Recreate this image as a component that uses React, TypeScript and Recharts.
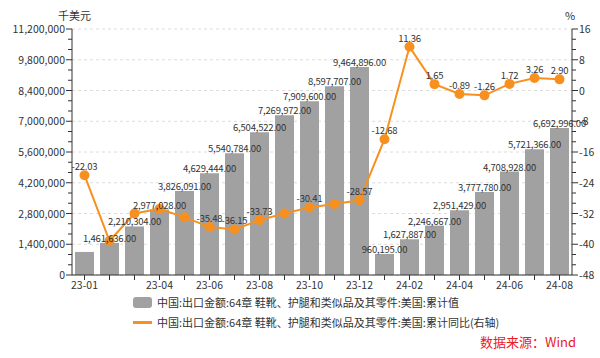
import { Bar, CartesianGrid, ComposedChart, LabelList, Line, XAxis, YAxis } from "recharts";

const months = [
  "23-01", "23-02", "23-03", "23-04", "23-05", "23-06", "23-07", "23-08", "23-09", "23-10",
  "23-11", "23-12", "24-01", "24-02", "24-03", "24-04", "24-05", "24-06", "24-07", "24-08"
];
const cumValue = [
  1050000, 1461636, 2210304, 2977028, 3826091, 4629444, 5540784, 6504522, 7269972, 7909600,
  8597707, 9464896, 960195, 1627887, 2246667, 2951429, 3777780, 4708928, 5721366, 6692996
];
const cumYoY = [
  -22.03, -39.1, -32.0, -30.8, -33.0, -35.48, -36.15, -33.73, -32.0, -30.41,
  -29.5, -28.57, -12.68, 11.36, 1.65, -0.89, -1.26, 1.72, 3.26, 2.9
];
const shownMonths = ["23-01", "23-04", "23-06", "23-08", "23-10", "23-12", "24-02", "24-04", "24-06", "24-08"];
const hiddenBarLabels = ["23-01"];
const hiddenLineLabels = ["23-02", "23-03", "23-04", "23-05", "23-09", "23-11"];
const leftMajor = [0, 1400000, 2800000, 4200000, 5600000, 7000000, 8400000, 9800000, 11200000];
const rightMajor = [-48, -40, -32, -24, -16, -8, 0, 8, 16];

const withMinor = (major: number[]) => {
  const out: number[] = [];
  major.forEach((v, i) => {
    out.push(v);
    if (i < major.length - 1) {
      const step = (major[i + 1] - v) / 3;
      out.push(v + step, v + 2 * step);
    }
  });
  return out;
};

const data = months.map((m, i) => ({ month: m, value: cumValue[i], yoy: cumYoY[i] }));

const FONT = "'Microsoft YaHei', 'Noto Sans CJK SC', 'Noto Sans', sans-serif";
const BAR = "#a1a1a1";
const ORANGE = "#f7901e";
const INK = "#333";

const fmt = (v: number) => v.toLocaleString("en-US");

const LeftTick = (props: any) => {
  const { x, y, payload } = props;
  const major = leftMajor.includes(payload.value);
  return (
    <g>
      <line x1={x} x2={x - (major ? 6 : 4)} y1={y} y2={y} stroke={INK} />
      {major && (
        <text x={x - 7} y={y} dy={4} textAnchor="end" fontSize={10.5} fill={INK}>
          {fmt(payload.value)}
        </text>
      )}
    </g>
  );
};

const RightTick = (props: any) => {
  const { x, y, payload } = props;
  const major = rightMajor.includes(payload.value);
  return (
    <g>
      <line x1={x} x2={x + (major ? 6 : 4)} y1={y} y2={y} stroke={INK} />
      {major && (
        <text x={x + 7} y={y} dy={4} textAnchor="start" fontSize={10.5} fill={INK}>
          {payload.value}
        </text>
      )}
    </g>
  );
};

const BarLabel = (props: any) => {
  const { x, y, width, value, index } = props;
  if (hiddenBarLabels.includes(months[index])) return null;
  return (
    <text x={x + width / 2} y={y - 1} textAnchor="middle" fontSize={9.5} letterSpacing={-0.2} fill={INK}>
      {Number(value).toLocaleString("en-US", { minimumFractionDigits: 2, maximumFractionDigits: 2 })}
    </text>
  );
};

const LineLabel = (props: any) => {
  const { x, y, value, index } = props;
  if (hiddenLineLabels.includes(months[index])) return null;
  return (
    <text x={x} y={y - 5} textAnchor="middle" fontSize={9.5} letterSpacing={-0.2} fill={INK}>
      {Number(value).toFixed(2)}
    </text>
  );
};

export default function App() {
  return (
    <div style={{ position: "absolute", left: 0, top: 0, width: 600, height: 358, background: "#fff", fontFamily: FONT }}>
      <ComposedChart
        width={600}
        height={358}
        data={data}
        margin={{ top: 29, right: 0, bottom: 53, left: 0 }}
        barCategoryGap="12%"
        style={{ fontFamily: FONT }}
      >
        <CartesianGrid yAxisId="left" vertical={false} horizontalValues={leftMajor} stroke="#dcdcdc" strokeDasharray="3 3" />
        <XAxis
          dataKey="month"
          interval={0}
          tickSize={5}
          tickMargin={2}
          height={30}
          stroke={INK}
          tick={{ fill: INK, fontSize: 10.5 }}
          tickFormatter={(v: string) => (shownMonths.includes(v) ? v : "")}
        />
        <YAxis
          yAxisId="left"
          orientation="left"
          width={72}
          domain={[0, 11200000]}
          ticks={withMinor(leftMajor)}
          interval={0}
          tickSize={0}
          tickMargin={0}
          tickLine={false}
          stroke={INK}
          tick={<LeftTick />}
        />
        <YAxis
          yAxisId="right"
          orientation="right"
          width={28}
          domain={[-48, 16]}
          ticks={withMinor(rightMajor)}
          interval={0}
          tickSize={0}
          tickMargin={0}
          tickLine={false}
          stroke={INK}
          tick={<RightTick />}
        />
        <Bar yAxisId="left" dataKey="value" fill={BAR} isAnimationActive={false}>
          <LabelList dataKey="value" content={<BarLabel />} />
        </Bar>
        <Line
          yAxisId="right"
          dataKey="yoy"
          stroke={ORANGE}
          strokeWidth={2}
          dot={{ r: 4, fill: ORANGE, stroke: ORANGE }}
          isAnimationActive={false}
        >
          <LabelList dataKey="yoy" content={<LineLabel />} />
        </Line>
      </ComposedChart>
      <div style={{ position: "absolute", left: 58, top: 7, fontSize: 11, color: INK }}>千美元</div>
      <div style={{ position: "absolute", left: 565, top: 7, fontSize: 11, color: INK }}>%</div>
      <div style={{ position: "absolute", left: 133, top: 295, fontSize: 11, color: INK, lineHeight: "14px" }}>
        <div style={{ display: "flex", alignItems: "center", height: 14 }}>
          <span style={{ display: "inline-block", width: 19, height: 11, borderRadius: 3, background: BAR, marginRight: 5 }} />
          中国:出口金额:64章 鞋靴、护腿和类似品及其零件:美国:累计值
        </div>
        <div style={{ display: "flex", alignItems: "center", height: 14, marginTop: 6 }}>
          <span style={{ display: "inline-block", width: 19, height: 3, background: ORANGE, marginRight: 5 }} />
          中国:出口金额:64章 鞋靴、护腿和类似品及其零件:美国:累计同比(右轴)
        </div>
      </div>
      <div style={{ position: "absolute", left: 480, top: 332, fontSize: 13, color: "#e8201e" }}>数据来源：Wind</div>
    </div>
  );
}
